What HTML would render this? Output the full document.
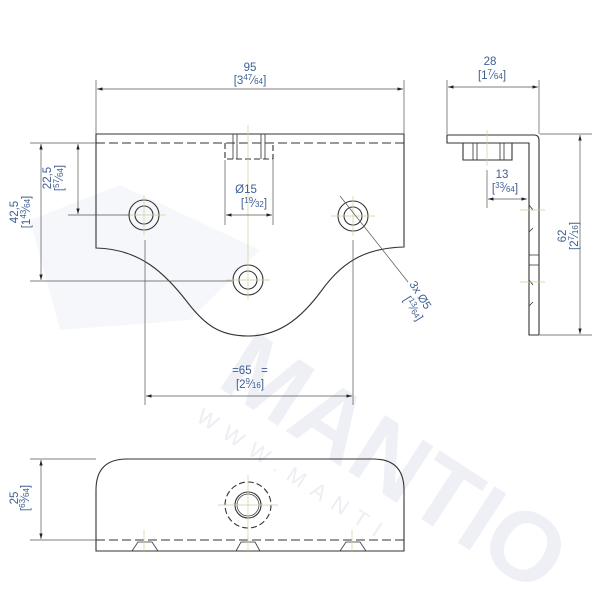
<!DOCTYPE html>
<html><head><meta charset="utf-8"><style>
html,body{margin:0;padding:0;background:#fff;width:600px;height:600px;overflow:hidden;}
svg{display:block;font-family:"Liberation Sans",sans-serif;}
.t{fill:#3d5f93;font-size:11.5px;}
.s{fill:#3d5f93;font-size:8px;}
</style></head><body>
<svg width="600" height="600" viewBox="0 0 600 600" xmlns="http://www.w3.org/2000/svg" overflow="hidden">
<defs>
<marker id="a" viewBox="0 0 10 6" refX="10" refY="3" markerWidth="8" markerHeight="5" orient="auto-start-reverse"><path d="M0,0L10,3L0,6z" fill="#222"/></marker>
</defs>
<g fill="#f1f3f8">
<path d="M30,220 L120,185 L260,250 L190,320 L60,330 Z" opacity="0.7"/>
<text transform="translate(215,385) rotate(33)" font-size="98" font-weight="bold" fill="#eef0f6">MANTIO</text>
<text transform="translate(195,420) rotate(33)" font-size="22" fill="#eceef4" letter-spacing="10">WWW.MANTI</text>
</g>
<g fill="none" stroke="#333" stroke-width="1.1">
<path d="M96,134 L404,134 L404,247 C370,248 345,258 322,290 C300,320 278,336 248,336 C220,336 205,325 188,303 C165,273 140,249 96,248 Z"/>
<path d="M96,143 L404,143" stroke-dasharray="9,4"/>
<path d="M225,143 L225,159 L273,159 L273,143" stroke-dasharray="6,3"/>
<path d="M233,134V159M237,134V159M261,134V159M265,134V159" stroke-width="0.8"/>
<circle cx="144" cy="215" r="15"/><circle cx="144" cy="215" r="9"/>
<circle cx="353" cy="216" r="15"/><circle cx="353" cy="216" r="9"/>
<circle cx="248" cy="280" r="15"/><circle cx="248" cy="280" r="9"/>
<path d="M447,135 L534,135 Q539,135 539,140 L539,335 L529,335 L529,143 L447,143 Z"/>
<path d="M463,143 L463,160 L512,160 L512,143"/>
<path d="M473,143V160M477,143V160M500,143V160M504,143V160" stroke-width="0.8"/>
<path d="M529,205 L533,210 M529,232 L533,228 M529,255 L539,255 M529,265 L539,265 M529,280 L533,285 M529,306 L533,302" stroke-width="0.8"/>
<path d="M96,551 L96,490 Q96,459 127,459 L373,459 Q404,459 404,490 L404,551 Z"/>
<path d="M96,540 L404,540" stroke-dasharray="9,4"/>
<circle cx="248" cy="505" r="23" stroke-dasharray="6,3"/>
<circle cx="248" cy="505" r="13"/><circle cx="248" cy="505" r="11" stroke-width="0.7"/>
<path d="M132,551 L138,542 L152,542 L158,551 M236,551 L241,542 L255,542 L260,551 M340,551 L346,542 L360,542 L366,551" stroke-width="0.8"/>
</g>
<g stroke="#c8d49a" stroke-width="0.7" fill="none">
<path d="M248,125V300M122,215H166M144,195V235M331,216H375M353,196V236M226,280H270M487,130V166M520,210H545M520,282H545M218,505H278M248,475V551M144,530V551M352,530V551"/>
</g>
<g stroke="#555" stroke-width="0.7" fill="none">
<path d="M96,80V134M404,80V134"/>
<path d="M97,89H403" marker-start="url(#a)" marker-end="url(#a)"/>
<path d="M225,160V225M273,160V225"/>
<path d="M226,215H272" marker-start="url(#a)" marker-end="url(#a)"/>
<path d="M30,143H96M68,215H130M30,281H232"/>
<path d="M41,144V280" marker-start="url(#a)" marker-end="url(#a)"/>
<path d="M78,144V214" marker-start="url(#a)" marker-end="url(#a)"/>
<path d="M145,240V405M353,240V405"/>
<path d="M146,396H352" marker-start="url(#a)" marker-end="url(#a)"/>
<path d="M340,196L408,282"/>
<path d="M447,80V134M539,80V134"/>
<path d="M448,87H538" marker-start="url(#a)" marker-end="url(#a)"/>
<path d="M487,170V208"/>
<path d="M488,199H527" marker-start="url(#a)" marker-end="url(#a)"/>
<path d="M540,134H592M540,335H592"/>
<path d="M580,135V334" marker-start="url(#a)" marker-end="url(#a)"/>
<path d="M30,459H96M30,540H96"/>
<path d="M41,460V539" marker-start="url(#a)" marker-end="url(#a)"/>
</g>
<g class="t">
<text x="250" y="71" text-anchor="middle">95</text>
<text x="250" y="84" text-anchor="middle">[3<tspan class="s" dy="-4">47</tspan><tspan dy="4">⁄</tspan><tspan class="s">64</tspan>]</text>
<text x="246" y="193" text-anchor="middle">Ø15</text>
<text x="254" y="207" text-anchor="middle">[<tspan class="s" dy="-4">19</tspan><tspan dy="4">⁄</tspan><tspan class="s">32</tspan>]</text>
<text x="250" y="374" text-anchor="middle">=65&#160;&#160;&#160;=</text>
<text x="250" y="388" text-anchor="middle">[2<tspan class="s" dy="-4">9</tspan><tspan dy="4">⁄</tspan><tspan class="s">16</tspan>]</text>
<text x="490" y="65" text-anchor="middle">28</text>
<text x="492" y="79" text-anchor="middle">[1<tspan class="s" dy="-4">7</tspan><tspan dy="4">⁄</tspan><tspan class="s">64</tspan>]</text>
<text x="502" y="178" text-anchor="middle">13</text>
<text x="505" y="192" text-anchor="middle">[<tspan class="s" dy="-4">33</tspan><tspan dy="4">⁄</tspan><tspan class="s">64</tspan>]</text>
<g transform="translate(566,236) rotate(-90)"><text x="0" y="0" text-anchor="middle">62</text><text x="0" y="12" text-anchor="middle">[2<tspan class="s" dy="-4">7</tspan><tspan dy="4">⁄</tspan><tspan class="s">16</tspan>]</text></g>
<g transform="translate(55,178) rotate(-90)"><text x="0" y="-4" text-anchor="middle">22,5</text><text x="0" y="8" text-anchor="middle">[<tspan class="s" dy="-4">57</tspan><tspan dy="4">⁄</tspan><tspan class="s">64</tspan>]</text></g>
<g transform="translate(18,212) rotate(-90)"><text x="0" y="0" text-anchor="middle">42,5</text><text x="0" y="12" text-anchor="middle">[1<tspan class="s" dy="-4">43</tspan><tspan dy="4">⁄</tspan><tspan class="s">64</tspan>]</text></g>
<g transform="translate(18,498) rotate(-90)"><text x="0" y="0" text-anchor="middle">25</text><text x="0" y="11" text-anchor="middle">[<tspan class="s" dy="-4">63</tspan><tspan dy="4">⁄</tspan><tspan class="s">64</tspan>]</text></g>
<g transform="translate(409,284) rotate(58)"><text x="0" y="0">3x Ø5</text><text x="10" y="13">[<tspan class="s" dy="-4">13</tspan><tspan dy="4">⁄</tspan><tspan class="s">64</tspan>]</text></g>
</g>
</svg>
</body></html>
